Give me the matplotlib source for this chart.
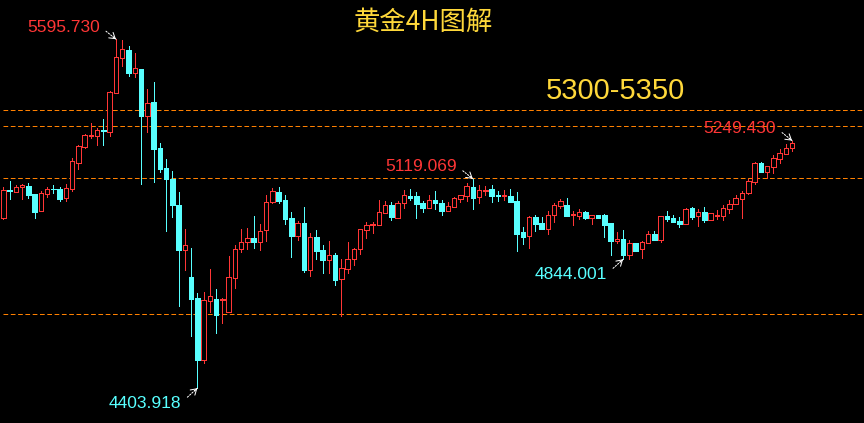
import matplotlib
matplotlib.use("Agg")
import matplotlib.pyplot as plt
import numpy as np

# ---- data (4H gold candles) ----
opens = [4986.2, 5080.7, 5074.9, 5091.0, 5094.4, 5067.1, 5010.1, 5068.8, 5085.2, 5084.2,
         5052.4, 5085.2, 5174.0, 5228.6, 5264.1, 5266.2, 5286.7, 5279.8, 5413.0, 5533.2,
         5558.8, 5481.3, 5494.0, 5334.5, 5381.3, 5224.2, 5155.9, 5118.3, 5029.5, 4876.9,
         4783.6, 4711.9, 4500.2, 4703.4, 4708.5, 4706.8, 4665.1, 4781.3, 4878.2, 4901.5,
         4915.8, 4904.2, 4945.2, 5038.7, 5072.9, 5046.6, 4984.1, 4924.7, 4968.1, 4808.6,
         4920.2, 4875.8, 4841.7, 4858.8, 4777.8, 4812.0, 4844.1, 4878.2, 4945.2, 4961.2,
         4962.9, 5003.2, 5030.5, 4986.2, 5035.3, 5061.3, 5060.3, 5036.4, 5020.3, 5046.6,
         5036.4, 5010.1, 5023.7, 5051.0, 5061.3, 5091.0, 5057.9, 5078.4, 5084.2, 5063.7,
         5060.3, 5060.3, 5043.2, 4937.3, 4924.7, 4987.5, 4968.1, 4945.9, 4993.7, 5027.1,
         5029.5, 4996.4, 4993.0, 5005.6, 4986.2, 4995.4, 4995.4, 4967.0, 4906.6, 4912.4,
         4859.8, 4899.8, 4878.2, 4900.8, 4929.5, 4910.0, 4992.0, 4985.1, 4974.9, 4965.7,
         5018.3, 4990.9, 5005.6, 4979.3, 4993.0, 4993.0, 5016.9, 5032.9, 5050.0, 5069.5,
         5107.1, 5173.0, 5143.2, 5160.3, 5187.6, 5204.7, 5223.2]
highs = [5092.0, 5111.5, 5097.8, 5101.2, 5103.6, 5067.1, 5077.3, 5092.0, 5096.8, 5091.0,
         5101.2, 5190.0, 5235.5, 5272.0, 5308.5, 5291.5, 5323.2, 5418.8, 5595.73, 5593.0,
         5572.5, 5548.6, 5495.0, 5425.7, 5449.6, 5241.3, 5186.6, 5145.6, 5072.9, 4947.6,
         4882.7, 4729.0, 4732.4, 4811.0, 4741.6, 4713.0, 4855.4, 4892.9, 4946.5, 4950.0,
         4992.0, 4964.6, 5063.7, 5086.6, 5091.0, 5063.7, 5005.6, 4974.9, 5022.7, 4933.9,
         4944.1, 4892.9, 4906.6, 4865.6, 4845.1, 4903.2, 4882.7, 4948.0, 4972.5, 4972.5,
         5046.6, 5043.2, 5038.7, 5043.2, 5080.7, 5084.2, 5072.9, 5042.2, 5063.7, 5077.3,
         5045.6, 5040.8, 5057.9, 5063.5, 5103.6, 5119.069, 5097.8, 5094.4, 5097.8, 5077.3,
         5080.7, 5084.2, 5072.9, 4956.1, 4993.0, 4995.4, 4987.5, 5008.0, 5036.4, 5050.0,
         5053.4, 5010.0, 5014.8, 5009.0, 4995.5, 4996.0, 4999.8, 4968.0, 4937.3, 4944.1,
         4909.0, 4900.5, 4907.6, 4940.7, 4940.7, 4993.0, 5009.0, 4995.4, 4987.5, 5019.3,
         5022.7, 5016.9, 5022.7, 5002.0, 5012.5, 5028.5, 5045.6, 5062.6, 5076.3, 5117.3,
         5176.4, 5176.4, 5162.5, 5199.3, 5220.8, 5237.8, 5249.43]
lows = [4983.4, 5050.0, 5073.9, 5050.0, 5054.5, 4986.2, 5008.0, 5057.9, 5071.5, 5044.2,
        5044.2, 5078.4, 5153.5, 5223.2, 5257.3, 5234.4, 5234.4, 5265.2, 5411.0, 5505.2,
        5471.1, 5467.7, 5102.3, 5279.8, 5109.1, 5143.2, 4941.8, 4989.6, 4685.6, 4808.6,
        4582.2, 4403.918, 4488.9, 4665.1, 4593.4, 4627.6, 4663.0, 4747.1, 4870.7, 4879.3,
        4883.7, 4875.8, 4907.6, 5037.0, 5037.4, 4965.7, 4851.9, 4910.0, 4801.7, 4787.1,
        4844.1, 4798.3, 4798.3, 4756.3, 4650.5, 4796.3, 4824.6, 4862.2, 4916.8, 4934.9,
        4961.0, 5001.0, 4978.3, 4984.0, 5020.3, 5046.6, 4986.2, 5006.6, 5019.0, 5015.9,
        4995.4, 5009.0, 5022.0, 5040.8, 5044.2, 5015.9, 5037.4, 5063.7, 5040.8, 5044.2,
        5046.6, 5039.0, 4874.1, 4896.3, 4882.7, 4940.7, 4946.0, 4931.5, 4972.5, 5020.3,
        4991.0, 4961.2, 4982.7, 4981.7, 4964.6, 4985.0, 4920.2, 4858.8, 4900.8, 4844.001,
        4845.0, 4872.0, 4849.6, 4899.0, 4909.0, 4902.1, 4975.9, 4970.0, 4955.4, 4964.0,
        4980.7, 4958.8, 4972.5, 4978.0, 4980.7, 4979.3, 5001.2, 5032.0, 4986.2, 5068.0,
        5101.2, 5142.0, 5120.7, 5139.8, 5174.0, 5203.0, 5214.8]
closes = [5079.7, 5076.3, 5090.0, 5096.8, 5064.7, 5006.6, 5070.5, 5083.1, 5082.5, 5050.0,
          5086.6, 5178.8, 5231.0, 5268.6, 5267.6, 5285.6, 5281.2, 5415.4, 5533.9, 5561.2,
          5481.3, 5496.4, 5334.5, 5376.8, 5221.8, 5152.5, 5117.3, 5029.5, 4876.9, 4891.9,
          4709.5, 4500.2, 4705.1, 4718.8, 4655.6, 4709.5, 4782.6, 4879.3, 4902.1, 4915.8,
          4904.2, 4939.7, 5038.7, 5076.3, 5044.2, 4982.7, 4924.7, 4967.0, 4807.5, 4920.2,
          4873.5, 4841.7, 4857.8, 4773.4, 4814.4, 4844.1, 4879.3, 4946.5, 4960.2, 4963.6,
          5004.6, 5028.5, 4989.6, 5037.4, 5063.7, 5053.4, 5032.9, 5020.3, 5046.6, 5037.4,
          5010.1, 5026.1, 5053.4, 5062.6, 5094.4, 5053.4, 5080.7, 5081.8, 5061.3, 5060.3,
          5062.6, 5040.8, 4932.2, 4921.3, 4987.5, 4965.7, 4947.6, 4994.4, 5029.5, 5042.2,
          4993.0, 4999.8, 5004.6, 4986.2, 4994.4, 4986.2, 4962.2, 4907.6, 4913.4, 4858.8,
          4899.8, 4873.5, 4903.2, 4929.5, 4910.0, 4992.0, 4981.7, 4971.5, 4965.7, 5015.9,
          4988.5, 5005.6, 4978.3, 5001.2, 4995.4, 5019.3, 5032.9, 5053.4, 5070.5, 5111.5,
          5171.9, 5143.2, 5161.7, 5190.0, 5206.1, 5223.2, 5240.2]

level_lines = [5353.0, 5298.0, 5121.0, 4656.0]
title_text = "黄金4H图解"
target_text = "5300-5350"
# (candle index, price, label, kind)
extremes = [(18, 5595.730, "5595.730", "hi"),
            (31, 4403.918, "4403.918", "lo"),
            (75, 5119.069, "5119.069", "hi"),
            (99, 4844.001, "4844.001", "lo"),
            (126, 5249.430, "5249.430", "hi")]

RED = "#FF3636"
CYAN = "#58FFFF"
ORANGE = "#FF8000"
GOLD = "#FFD83A"
PX = 0.72  # one pixel in points at dpi 100

fig = plt.figure(figsize=(8.64, 4.23), dpi=100, facecolor="black")
ax = fig.add_axes([0, 0, 1, 1])
ax.set_facecolor("black")
ax.set_xlim(-0.527, 137.49)
ax.set_ylim(4285.1, 5729.6)
ax.axis("off")

o = np.array(opens); h = np.array(highs); l = np.array(lows); c = np.array(closes)
x = np.arange(len(o))
up = c >= o
cols = np.where(up, RED, CYAN)

ax.vlines(x, l, h, colors=cols, linewidth=PX, zorder=2, antialiased=False)
bottoms = np.minimum(o, c)
heights = np.abs(c - o)
ax.bar(x[up], heights[up], bottom=bottoms[up], width=0.72, facecolor="black",
       edgecolor=RED, linewidth=PX, zorder=3, antialiased=False)
ax.bar(x[~up], heights[~up], bottom=bottoms[~up], width=0.72, facecolor=CYAN,
       edgecolor=CYAN, linewidth=PX, zorder=3, antialiased=False)

ax.hlines(level_lines, -0.05, 138, colors=ORANGE, linewidth=PX,
          linestyles=[(0, (4.7, 2.6))], zorder=1)

ax.text(0.49, 0.948, title_text, transform=ax.transAxes, ha="center", va="center",
        color=GOLD, fontsize=19, family=["Noto Sans CJK SC", "DejaVu Sans"])
ax.text(0.712, 0.785, target_text, transform=ax.transAxes, ha="center", va="center",
        color=GOLD, fontsize=21, family=["Liberation Sans", "DejaVu Sans"])

for idx, price, label, kind in extremes:
    if kind == "hi":
        col = RED
        txt_off = (-16, 12)
        arr_start = (-10, 8)
    else:
        col = CYAN
        txt_off = (-16, -15)
        arr_start = (-10, -9)
    ax.annotate(label, xy=(idx, price), xytext=txt_off, textcoords="offset pixels",
                ha="right", va="center", color=col, fontsize=12.5,
                family=["Liberation Sans", "DejaVu Sans"])
    # dotted shaft
    ax.annotate("", xy=(idx, price), xytext=arr_start, textcoords="offset pixels",
                arrowprops=dict(arrowstyle="-", color="white", lw=PX,
                                linestyle=(0, (1.5, 1.5)), shrinkA=0, shrinkB=0))
    # solid head
    hx = arr_start[0] * 0.3
    hy = arr_start[1] * 0.3
    ax.annotate("", xy=(idx, price), xytext=(hx, hy), textcoords="offset pixels",
                arrowprops=dict(arrowstyle="->,head_length=0.4,head_width=0.25",
                                color="white", lw=PX, shrinkA=0, shrinkB=0))

fig.savefig("out.png", dpi=100, facecolor="black")
